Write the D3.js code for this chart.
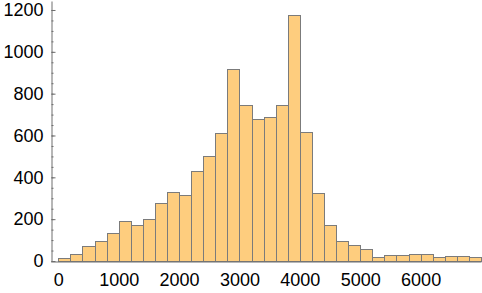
<!DOCTYPE html>
<html>
<head>
<meta charset="utf-8">
<script src="https://cdn.jsdelivr.net/npm/d3@7"></script>
<style>
  body { margin: 0; background: #fff; }
  svg { display: block; }
</style>
</head>
<body>
<div id="my_dataviz"></div>
<script>
// histogram bins (width 200, starting at 0) and their counts
var binStart = 0
var binWidth = 200
var counts = [13, 32, 70, 94, 132, 190, 171, 199, 276, 328,
              314, 429, 500, 610, 916, 744, 677, 687, 744, 1174,
              615, 324, 171, 94, 75, 56, 18, 27, 27, 32,
              32, 18, 22, 22, 18]
var xTicks = [0, 1000, 2000, 3000, 4000, 5000, 6000]
var yTicks = [0, 200, 400, 600, 800, 1000, 1200]

var width = 482
var height = 293

var svg = d3.select("#my_dataviz")
  .append("svg")
    .attr("width", width)
    .attr("height", height)

var x = d3.scaleLinear()
    .domain([-126, 7000])
    .range([50.7, 481])

var y = d3.scaleLinear()
    .domain([0, 1243])
    .range([261, 1])

var bins = counts.map((c, i) => ({x0: binStart + i * binWidth, x1: binStart + (i + 1) * binWidth, n: c}))

svg.append("g")
  .selectAll("rect")
  .data(bins)
  .join("rect")
    .attr("x", d => Math.round(x(d.x0)) + 0.5)
    .attr("y", d => Math.round(y(d.n)) + 0.5)
    .attr("width", d => Math.round(x(d.x1)) - Math.round(x(d.x0)))
    .attr("height", d => Math.round(y(0)) - Math.round(y(d.n)))
    .attr("fill", "#fecd7e")
    .attr("stroke", "#7b7b7b")
    .attr("stroke-width", 1)

// x axis (line + labels, no visible ticks)
var xAxis = svg.append("g")
    .attr("transform", "translate(0," + (Math.round(y(0)) + 0.5) + ")")
    .call(d3.axisBottom(x).tickValues(xTicks).tickFormat(d3.format("d")).tickSize(0).tickSizeOuter(0).tickPadding(12))
xAxis.select(".domain").attr("stroke", "#6e6e6e")

// y axis, ticks pointing inward
var yMinor = svg.append("g")
    .attr("transform", "translate(" + (Math.round(x.range()[0]) + 0.5) + ",0)")
    .call(d3.axisLeft(y).tickValues(d3.range(0, 1250, 50)).tickFormat("").tickSize(-2).tickSizeOuter(0))
yMinor.select(".domain").remove()
yMinor.selectAll("line").attr("stroke", "#6e6e6e")

var yAxis = svg.append("g")
    .attr("transform", "translate(" + (Math.round(x.range()[0]) + 0.5) + ",0)")
    .call(d3.axisLeft(y).tickValues(yTicks).tickFormat(d3.format("d")).tickSize(-4).tickSizeOuter(0).tickPadding(8))
yAxis.select(".domain").attr("stroke", "#6e6e6e")
yAxis.selectAll("line").attr("stroke", "#6e6e6e")

svg.selectAll(".tick text")
    .attr("font-family", "'Liberation Sans', Arial, sans-serif")
    .attr("font-size", 18)
    .attr("fill", "#000")
</script>
</body>
</html>
